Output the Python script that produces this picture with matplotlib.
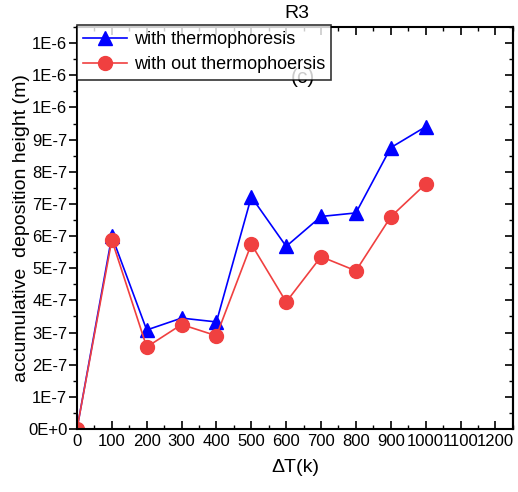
import numpy as np
import matplotlib.pyplot as plt
from matplotlib.ticker import MultipleLocator, FuncFormatter

plt.rcParams['font.family'] = ['Liberation Sans', 'DejaVu Sans']

# temperature difference (K)
delta_t = [0, 100, 200, 300, 400, 500, 600, 700, 800, 900, 1000]

# accumulative deposition height (m)
with_thermo = [0.0, 6.0e-7, 3.08e-7, 3.45e-7, 3.33e-7, 7.22e-7,
               5.68e-7, 6.61e-7, 6.72e-7, 8.75e-7, 9.4e-7]
without_thermo = [0.0, 5.88e-7, 2.55e-7, 3.25e-7, 2.9e-7, 5.75e-7,
                  3.95e-7, 5.36e-7, 4.92e-7, 6.6e-7, 7.62e-7]


def sci_label(v, pos):
    if abs(v) < 1e-12:
        return '0E+0'
    s = '%.0E' % v
    mant, exp = s.split('E')
    return '%sE%d' % (mant, int(exp))


fig = plt.figure(figsize=(5.18, 4.92), dpi=100)
ax = fig.add_axes([0.1486, 0.128, 0.8414, 0.817])

ax.plot(delta_t, with_thermo, color='#0000ff', lw=1.2, marker='^',
        markersize=10, label='with thermophoresis')
ax.plot(delta_t, without_thermo, color='#f04040', lw=1.2, marker='o',
        markersize=10, label='with out thermophoersis')

ax.set_xlim(0, 1250)
ax.set_ylim(0, 1.25e-6)
ax.xaxis.set_major_locator(MultipleLocator(100))
ax.xaxis.set_minor_locator(MultipleLocator(50))
ax.yaxis.set_major_locator(MultipleLocator(1e-7))
ax.yaxis.set_minor_locator(MultipleLocator(0.5e-7))
ax.yaxis.set_major_formatter(FuncFormatter(sci_label))

ax.tick_params(axis='x', which='both', direction='in', top=True, labelsize=12)
ax.tick_params(axis='y', which='both', direction='out', labelsize=12, pad=1)
ax.tick_params(which='major', length=6, width=1.2)
ax.tick_params(which='minor', length=3, width=1.0)
ax.tick_params(axis='y', which='both', right=False)
ax.yaxis.set_ticks_position('left')

# right-hand ticks pointing inward
sec = ax.secondary_yaxis('right')
sec.yaxis.set_major_locator(MultipleLocator(1e-7))
sec.yaxis.set_minor_locator(MultipleLocator(0.5e-7))
sec.tick_params(which='both', direction='in', labelright=False)
sec.tick_params(which='major', length=6, width=1.2)
sec.tick_params(which='minor', length=3, width=1.0)

for sp in ax.spines.values():
    sp.set_linewidth(1.5)
sec.spines['right'].set_linewidth(1.5)

ax.set_xlabel('\u0394T(k)', fontsize=14, labelpad=7)
ax.set_ylabel('accumulative  deposition height (m)', fontsize=14)
ax.yaxis.set_label_coords(-0.108, 0.5)

ax.text(0.475, 1.013, 'R3', transform=ax.transAxes, fontsize=14,
        ha='left', va='bottom')
# panel tag sits behind the legend box
ax.text(0.518, 0.874, '(c)', transform=ax.transAxes, fontsize=15,
        ha='center', va='center', zorder=1)

leg = ax.legend(loc='upper left', bbox_to_anchor=(0.0, 1.005),
                fontsize=13, frameon=True, fancybox=False,
                edgecolor='black', borderpad=0.35, handlelength=2.4,
                labelspacing=0.45, handletextpad=0.4, borderaxespad=0)
leg.get_frame().set_linewidth(1.2)
leg.set_zorder(5)

fig.savefig('out.png', dpi=100)
